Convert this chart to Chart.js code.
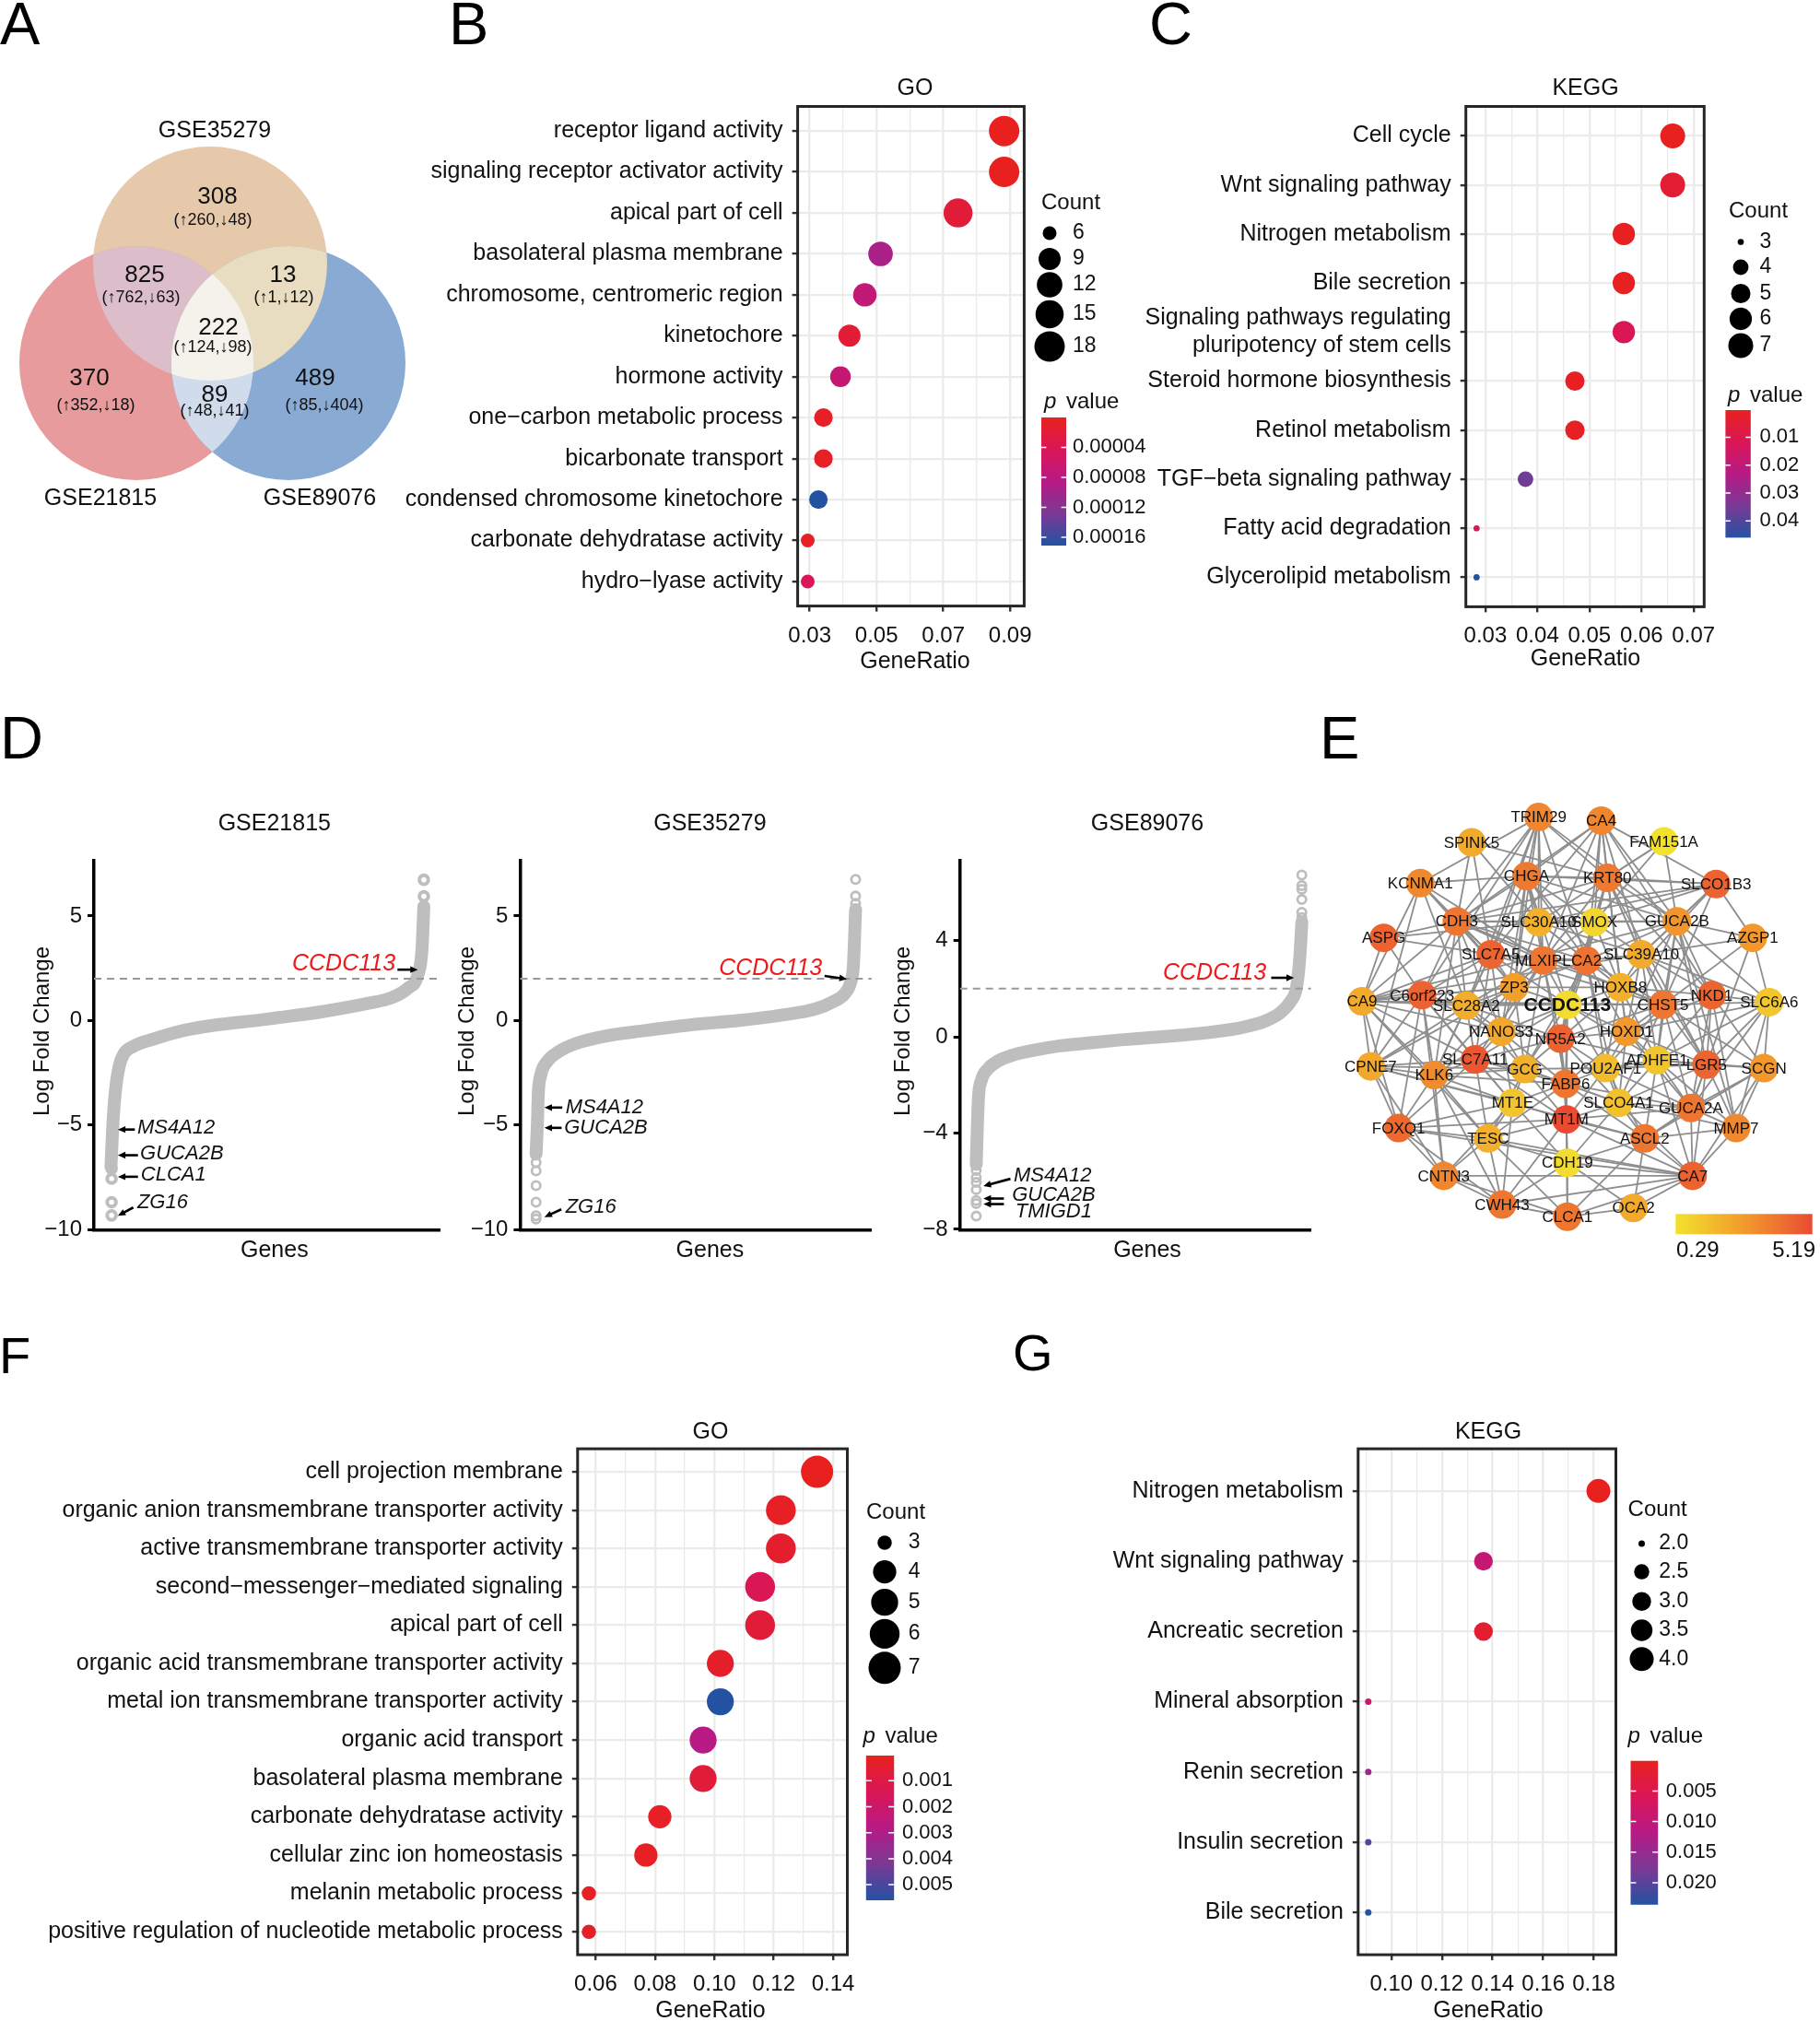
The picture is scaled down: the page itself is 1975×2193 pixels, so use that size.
<!DOCTYPE html>
<html>
<head>
<meta charset="utf-8">
<title>CCDC113 figure</title>
<script src="https://cdn.jsdelivr.net/npm/chart.js@4.4.1/dist/chart.umd.min.js"></script>
<style>
  html, body { margin: 0; padding: 0; background: #fff; }
  #fig { position: relative; width: 1975px; height: 2193px; overflow: hidden; background: #fff;
         font-family: "Liberation Sans", Arial, Helvetica, sans-serif; }
  #fig canvas { position: absolute; }
  .tag { position: absolute; line-height: 1; color: #000; font-size: 65px; }
  .tag.small { font-size: 56px; }
</style>
</head>
<body>
<div id="fig">
  <canvas id="venn"></canvas>
  <canvas id="goB"></canvas>
  <canvas id="keggC"></canvas>
  <canvas id="rank1"></canvas>
  <canvas id="rank2"></canvas>
  <canvas id="rank3"></canvas>
  <canvas id="net"></canvas>
  <canvas id="goF"></canvas>
  <canvas id="keggG"></canvas>
  <div class="tag" style="left:0px;top:-7px">A</div>
  <div class="tag" style="left:487px;top:-7px">B</div>
  <div class="tag" style="left:1247px;top:-7px">C</div>
  <div class="tag" style="left:0px;top:768px">D</div>
  <div class="tag" style="left:1432px;top:768px">E</div>
  <div class="tag small" style="left:-1px;top:1443px">F</div>
  <div class="tag small" style="left:1099px;top:1440px">G</div>
</div>
<script>
const FONT = '"Liberation Sans", Arial, Helvetica, sans-serif';
Chart.defaults.font.family = FONT;
Chart.defaults.color = '#111';

// ---------- A: Venn ----------
const vennSets = ['GSE35279', 'GSE21815', 'GSE89076'];
const vennTotals = [308, 825, 13, 222, 370, 89, 489];
const vennUp = [260, 762, 1, 124, 352, 48, 85];
const vennDown = [48, 63, 12, 98, 18, 41, 404];

// ---------- B: GO (up) ----------
const goTermsB = ['receptor ligand activity', 'signaling receptor activator activity', 'apical part of cell',
  'basolateral plasma membrane', 'chromosome, centromeric region', 'kinetochore', 'hormone activity',
  'one\u2212carbon metabolic process', 'bicarbonate transport', 'condensed chromosome kinetochore',
  'carbonate dehydratase activity', 'hydro\u2212lyase activity'];
const goRatioB = [0.0882, 0.0882, 0.0744, 0.0512, 0.0465, 0.0419, 0.0392, 0.0341, 0.0341, 0.0326, 0.0294, 0.0294];
const goCountB = [18, 18, 16, 11, 10, 9, 8, 7, 7, 7, 6, 6];
const goPB = [0.0000002, 0.0000004, 0.000021, 0.000095, 0.000072, 0.000019, 0.000068, 0.000005, 0.000006, 0.000171, 0.000004, 0.000043];
const goTicksB = [0.03, 0.05, 0.07, 0.09];
const goMinorB = [0.04, 0.06, 0.08];
const goCountKeysB = [6, 9, 12, 15, 18];
const goPKeysB = [0.00004, 0.00008, 0.00012, 0.00016];

// ---------- C: KEGG ----------
const keggTermsC = ['Cell cycle', 'Wnt signaling pathway', 'Nitrogen metabolism', 'Bile secretion',
  ['Signaling pathways regulating', 'pluripotency of stem cells'], 'Steroid hormone biosynthesis',
  'Retinol metabolism', 'TGF\u2212beta signaling pathway', 'Fatty acid degradation', 'Glycerolipid metabolism'];
const keggRatioC = [0.0660, 0.0660, 0.0566, 0.0566, 0.0566, 0.0472, 0.0472, 0.0377, 0.0283, 0.0283];
const keggCountC = [7, 7, 6, 6, 6, 5, 5, 4, 3, 3];
const keggPC = [0.0003, 0.0046, 0.0010, 0.0012, 0.0115, 0.0015, 0.0018, 0.0360, 0.0130, 0.0460];
const keggTicksC = [0.03, 0.04, 0.05, 0.06, 0.07];
const keggMinorC = [0.035, 0.045, 0.055, 0.065];
const keggCountKeysC = [3, 4, 5, 6, 7];
const keggPKeysC = [0.01, 0.02, 0.03, 0.04];

// ---------- D: ranked log fold change ----------
const rank21815X = [0.004, 0.010, 0.018, 0.030, 0.045, 0.074, 0.142, 0.239, 0.337, 0.483, 0.531, 0.677, 0.823, 0.901, 0.950, 0.980, 0.994, 1.000];
const rank21815Y = [-7.0, -5.0, -3.4, -2.2, -1.6, -1.25, -0.88, -0.47, -0.22, 0.03, 0.12, 0.42, 0.82, 1.11, 1.55, 2.14, 3.39, 5.45];
const rank21815OutX = [0.006, 0.006, 0.006, 0.006, 1, 1];
const rank21815OutY = [-7.1, -7.57, -8.7, -9.33, 5.94, 6.73];

const rank35279X = [0, 0.004, 0.007, 0.015, 0.033, 0.070, 0.125, 0.216, 0.344, 0.491, 0.637, 0.766, 0.875, 0.930, 0.967, 0.985, 0.993, 1.000];
const rank35279Y = [-6.4, -5.0, -3.5, -2.6, -2.0, -1.5, -1.1, -0.75, -0.48, -0.2, 0.0, 0.25, 0.55, 0.9, 1.3, 1.85, 2.6, 5.3];
const rank35279OutX = [0, 0, 0, 0, 0, 0, 1, 1, 1];
const rank35279OutY = [-6.8, -7.2, -7.9, -8.7, -9.35, -9.5, 5.6, 5.95, 6.75];

const rank89076X = [0, 0.004, 0.007, 0.016, 0.035, 0.068, 0.115, 0.181, 0.256, 0.350, 0.444, 0.539, 0.633, 0.727, 0.821, 0.887, 0.934, 0.967, 0.983, 0.992, 0.997, 1.000];
const rank89076Y = [-5.3, -3.5, -2.5, -1.8, -1.35, -1.0, -0.75, -0.55, -0.38, -0.25, -0.13, -0.03, 0.07, 0.2, 0.4, 0.65, 1.0, 1.5, 2.0, 3.0, 4.0, 4.75];
const rank89076OutX = [0, 0, 0, 0, 0, 0, 0, 1, 1, 1, 1, 1, 1];
const rank89076OutY = [-5.55, -5.85, -6.05, -6.35, -6.8, -6.93, -7.45, 4.95, 5.17, 5.7, 6.13, 6.28, 6.72];
const lfcCut = 2;

// ---------- E: PPI network ----------
const netGenes = ['TRIM29', 'CA4', 'SPINK5', 'FAM151A', 'KCNMA1', 'CHGA', 'KRT80', 'SLCO1B3', 'CDH3', 'SLC30A10',
  'SMOX', 'GUCA2B', 'ASPG', 'AZGP1', 'SLC7A5', 'MLXIPL', 'CA2', 'SLC39A10', 'ZP3', 'HOXB8', 'CA9', 'C6orf223',
  'SLC28A2', 'CCDC113', 'NKD1', 'SLC6A6', 'CHST5', 'NANOS3', 'HOXD1', 'NR5A2', 'CPNE7', 'KLK6', 'SLC7A11', 'GCG',
  'POU2AF1', 'ADHFE1', 'LGR5', 'SCGN', 'FABP6', 'MT1E', 'SLCO4A1', 'GUCA2A', 'MT1M', 'FOXQ1', 'MMP7', 'TESC',
  'ASCL2', 'CDH19', 'CNTN3', 'CA7', 'CWH43', 'CLCA1', 'OCA2'];
const netX = [1668, 1740, 1591, 1812, 1532, 1654, 1747, 1872, 1574, 1668, 1732, 1827, 1490, 1914, 1613, 1673, 1723,
  1786, 1640, 1762, 1465, 1534, 1585, 1701, 1867, 1933, 1811, 1625, 1769, 1693, 1475, 1548, 1595, 1652, 1745, 1804,
  1861, 1927, 1699, 1638, 1760, 1843, 1700, 1507, 1895, 1610, 1790, 1701, 1559, 1845, 1626, 1701, 1777];
const netY = [873, 877, 902, 901, 949, 941, 943, 950, 993, 994, 994, 993, 1012, 1012, 1031, 1038, 1038, 1031, 1069,
  1069, 1085, 1078, 1090, 1089, 1078, 1086, 1089, 1120, 1120, 1128, 1160, 1170, 1152, 1163, 1162, 1153, 1158, 1162,
  1180, 1202, 1202, 1208, 1221, 1231, 1231, 1243, 1243, 1271, 1286, 1286, 1319, 1333, 1323];
const netScore = [3.4, 3.4, 2.2, 0.29, 3.3, 3.8, 3.8, 4.5, 3.9, 2.0, 0.7, 2.9, 4.5, 2.8, 4.4, 3.9, 4.0, 2.2, 2.6, 2.0,
  2.2, 4.5, 2.1, 0.5, 4.4, 1.2, 3.9, 2.3, 2.8, 4.5, 2.3, 3.2, 4.8, 2.0, 1.6, 1.3, 4.4, 2.8, 3.9, 1.3, 1.4, 3.9, 5.19,
  4.3, 3.3, 2.0, 3.9, 0.5, 3.4, 4.5, 3.9, 3.9, 2.2];
const netLinks = [
  ['TRIM29', 'CDH3 SLC7A5 C6orf223 KRT80 CHGA SLC30A10 MLXIPL SLC28A2 ZP3 KCNMA1 CA2 GUCA2B'],
  ['CA4', 'CHGA CDH3 KRT80 SMOX GUCA2B SLCO1B3 SLC39A10 CA2 SLC7A5 HOXB8 NKD1 MLXIPL'],
  ['SPINK5', 'CDH3 SLC30A10 KRT80 SLC7A5'],
  ['FAM151A', 'KRT80 GUCA2B SMOX SLC30A10'],
  ['KCNMA1', 'CDH3 SLC7A5 CPNE7 ZP3 MLXIPL SLC28A2 CA9 CHGA'],
  ['CHGA', 'CDH3 MLXIPL SLC30A10 SLCO1B3 GUCA2B SMOX CA2 ZP3 HOXB8 CCDC113 NANOS3 SLC7A5 KRT80'],
  ['KRT80', 'CDH3 SMOX GUCA2B CA2 SLC39A10 CHST5 HOXD1 CCDC113 SLCO1B3 NKD1 LGR5 MLXIPL'],
  ['SLCO1B3', 'GUCA2B CDH3 SLC39A10 SMOX CHST5 HOXB8 SLC30A10 AZGP1'],
  ['CDH3', 'ASPG SLC7A5 SLC30A10 SMOX CA9 C6orf223 GUCA2B MLXIPL NANOS3 ZP3 KLK6 SLC28A2 CA2 HOXB8 CHST5'],
  ['SLC30A10', 'SMOX MLXIPL CA2 ZP3 SLC39A10 GUCA2B HOXB8'],
  ['SMOX', 'GUCA2B CA2 SLC39A10 HOXB8 CCDC113 MLXIPL NR5A2'],
  ['GUCA2B', 'AZGP1 SLC39A10 CHST5 NKD1 SLC6A6 HOXD1 LGR5 MMP7 CA2 ADHFE1 CA9'],
  ['ASPG', 'C6orf223 SLC7A5 CA9 SLC30A10'],
  ['AZGP1', 'SLC39A10 CHST5 SLC6A6 GUCA2A'],
  ['SLC7A5', 'MLXIPL ZP3 CA9 C6orf223 SLC28A2 NANOS3 CA2 SLC7A11 KLK6 CHST5 CCDC113'],
  ['MLXIPL', 'CA2 ZP3 CCDC113 NR5A2 NANOS3 HOXB8 SLC7A11 GCG FABP6 SLC28A2'],
  ['CA2', 'SLC39A10 HOXB8 CCDC113 NR5A2 CHST5 HOXD1 POU2AF1 ZP3 GCG SLCO4A1'],
  ['SLC39A10', 'HOXB8 CHST5 NKD1 SLC6A6 HOXD1 ADHFE1 LGR5 CA9'],
  ['ZP3', 'CCDC113 SLC28A2 NANOS3 C6orf223 CA9 HOXB8 GCG KLK6 CPNE7'],
  ['HOXB8', 'CCDC113 CHST5 HOXD1 NKD1 NR5A2 POU2AF1 ADHFE1'],
  ['CA9', 'C6orf223 SLC28A2 KLK6 CPNE7 FOXQ1 CCDC113 CHST5 NANOS3 SLC7A11 TESC'],
  ['C6orf223', 'SLC28A2 KLK6 SLC7A11 FOXQ1 CPNE7 NANOS3 CNTN3 MT1E'],
  ['SLC28A2', 'CCDC113 NANOS3 SLC7A11 KLK6 GCG NR5A2 CPNE7'],
  ['CCDC113', 'NR5A2 NANOS3 HOXD1 CHST5 GCG POU2AF1 FABP6 MT1M SLC7A11 ADHFE1'],
  ['NKD1', 'CHST5 SLC6A6 LGR5 SCGN HOXD1 ADHFE1 MMP7 GUCA2A'],
  ['SLC6A6', 'CHST5 SCGN LGR5 MMP7 ADHFE1 GUCA2A HOXD1'],
  ['CHST5', 'HOXD1 ADHFE1 LGR5 SCGN POU2AF1 GUCA2A SLCO4A1 NR5A2'],
  ['NANOS3', 'NR5A2 SLC7A11 GCG KLK6 MT1E FABP6'],
  ['HOXD1', 'NR5A2 ADHFE1 POU2AF1 LGR5 SLCO4A1 GUCA2A FABP6'],
  ['NR5A2', 'GCG POU2AF1 FABP6 SLC7A11 MT1M SLCO4A1 ADHFE1'],
  ['CPNE7', 'KLK6 FOXQ1 SLC7A11 GCG MT1E CNTN3 ASCL2'],
  ['KLK6', 'SLC7A11 FOXQ1 CNTN3 TESC MT1E GCG CWH43 FABP6'],
  ['SLC7A11', 'GCG MT1E FOXQ1 TESC FABP6 MT1M'],
  ['GCG', 'POU2AF1 FABP6 MT1E MT1M SLCO4A1 TESC'],
  ['POU2AF1', 'ADHFE1 FABP6 SLCO4A1 GUCA2A LGR5 ASCL2 MT1M'],
  ['ADHFE1', 'LGR5 SCGN GUCA2A SLCO4A1 MMP7 ASCL2 CA7'],
  ['LGR5', 'SCGN GUCA2A MMP7 CA7 SLCO4A1'],
  ['SCGN', 'GUCA2A MMP7 CA7 ASCL2'],
  ['FABP6', 'MT1E MT1M SLCO4A1 ASCL2 CDH19 TESC GUCA2A'],
  ['MT1E', 'MT1M TESC CNTN3 CWH43 CDH19 FOXQ1'],
  ['SLCO4A1', 'GUCA2A MT1M ASCL2 CA7 CDH19 MMP7'],
  ['GUCA2A', 'MMP7 CA7 ASCL2 MT1M'],
  ['MT1M', 'ASCL2 CDH19 TESC CA7 CLCA1 CWH43 FOXQ1'],
  ['FOXQ1', 'TESC CNTN3 CWH43 CA7'],
  ['MMP7', 'CA7 ASCL2'],
  ['TESC', 'CNTN3 CWH43 CDH19 CA7 CLCA1'],
  ['ASCL2', 'CA7 CDH19 OCA2 CLCA1'],
  ['CDH19', 'CA7 CLCA1 CWH43 OCA2'],
  ['CNTN3', 'CA7 CWH43 CLCA1'],
  ['CA7', 'CLCA1 OCA2 CWH43'],
  ['CWH43', 'CLCA1'],
  ['CLCA1', 'OCA2']
];
const netScaleLabels = ['0.29', '5.19'];

// ---------- F: GO (down) ----------
const goTermsF = ['cell projection membrane', 'organic anion transmembrane transporter activity',
  'active transmembrane transporter activity', 'second\u2212messenger\u2212mediated signaling', 'apical part of cell',
  'organic acid transmembrane transporter activity', 'metal ion transmembrane transporter activity',
  'organic acid transport', 'basolateral plasma membrane', 'carbonate dehydratase activity',
  'cellular zinc ion homeostasis', 'melanin metabolic process', 'positive regulation of nucleotide metabolic process'];
const goRatioF = [0.1346, 0.1224, 0.1224, 0.1154, 0.1154, 0.1020, 0.1020, 0.0962, 0.0962, 0.0816, 0.0769, 0.0577, 0.0577];
const goCountF = [7, 6, 6, 6, 6, 5, 5, 5, 5, 4, 4, 3, 3];
const goPF = [0.00003, 0.0002, 0.0004, 0.0014, 0.0007, 0.0003, 0.0056, 0.0028, 0.0007, 0.0002, 0.0002, 0.0002, 0.0003];
const goTicksF = [0.06, 0.08, 0.10, 0.12, 0.14];
const goMinorF = [0.07, 0.09, 0.11, 0.13];
const goCountKeysF = [3, 4, 5, 6, 7];
const goPKeysF = [0.001, 0.002, 0.003, 0.004, 0.005];

// ---------- G: KEGG (down) ----------
const keggTermsG = ['Nitrogen metabolism', 'Wnt signaling pathway', 'Ancreatic secretion', 'Mineral absorption',
  'Renin secretion', 'Insulin secretion', 'Bile secretion'];
const keggRatioG = [0.1818, 0.1364, 0.1364, 0.0909, 0.0909, 0.0909, 0.0909];
const keggCountG = [4, 3, 3, 2, 2, 2, 2];
const keggPG = [0.00006, 0.0095, 0.0019, 0.0088, 0.0142, 0.0200, 0.0236];
const keggTicksG = [0.10, 0.12, 0.14, 0.16, 0.18];
const keggMinorG = [0.09, 0.11, 0.13, 0.15, 0.17];
const keggCountKeysG = [2.0, 2.5, 3.0, 3.5, 4.0];
const keggPKeysG = [0.005, 0.010, 0.015, 0.020];

// ---------- helpers ----------
const P_STOPS = ['#E8211E', '#DA1656', '#B71A86', '#7A3994', '#2452A3'];
const DEG_STOPS = ['#F3E130', '#F2BE2C', '#F29A2D', '#EE7430', '#E94A30'];

function hexRgb(h) {
  const n = parseInt(h.slice(1), 16);
  return [(n >> 16) & 255, (n >> 8) & 255, n & 255];
}
function ramp(stops, t) {
  t = Math.max(0, Math.min(1, t));
  const s = (stops.length - 1) * t;
  const i = Math.min(Math.floor(s), stops.length - 2);
  const f = s - i;
  const a = hexRgb(stops[i]), b = hexRgb(stops[i + 1]);
  const c = a.map((v, k) => Math.round(v + (b[k] - v) * f));
  return `rgb(${c[0]},${c[1]},${c[2]})`;
}
function place(id, x, y, w, h) {
  const c = document.getElementById(id);
  c.width = w; c.height = h;
  c.style.left = x + 'px'; c.style.top = y + 'px';
  c.style.width = w + 'px'; c.style.height = h + 'px';
  return c;
}
function txt(ctx, s, x, y, size, align, o) {
  o = o || {};
  ctx.font = `${o.style || 'normal'} ${o.weight || 'normal'} ${size}px ${FONT}`;
  ctx.fillStyle = o.color || '#111';
  ctx.textAlign = align || 'left';
  ctx.textBaseline = 'middle';
  ctx.fillText(s, x, y);
}
function arrow(ctx, x1, y1, x2, y2) {
  const a = Math.atan2(y2 - y1, x2 - x1), L = 9, w = 0.42;
  ctx.strokeStyle = '#000'; ctx.fillStyle = '#000'; ctx.lineWidth = 2.6;
  ctx.beginPath(); ctx.moveTo(x1, y1); ctx.lineTo(x2 - 5 * Math.cos(a), y2 - 5 * Math.sin(a)); ctx.stroke();
  ctx.beginPath();
  ctx.moveTo(x2, y2);
  ctx.lineTo(x2 - L * Math.cos(a - w), y2 - L * Math.sin(a - w));
  ctx.lineTo(x2 - L * Math.cos(a + w), y2 - L * Math.sin(a + w));
  ctx.closePath(); ctx.fill();
}
const baseOpts = {
  responsive: false, animation: false, devicePixelRatio: 1, events: [],
  plugins: { legend: { display: false }, tooltip: { enabled: false } }
};

// ---------- A ----------
(function () {
  const cv = [0, 100, 470, 480];
  const centers = [[228, 286], [148, 394], [313, 394]];
  const R = 127;
  const fills = ['#E6C9AB', '#E89B9C', '#89AAD2'];
  const pairFills = [[[0, 1], '#DCBECB'], [[0, 2], '#E8DCC1'], [[1, 2], '#D0DCEB'], [[0, 1, 2], '#F4F2EA']];
  const setPos = [[233, 142], [109, 541], [347, 541]];
  const regionPos = [[236, 214, 231, 239], [157, 299, 153, 323], [307, 299, 308, 323], [237, 356, 231, 377],
    [97, 411, 104, 440], [233, 429, 233, 446], [342, 411, 352, 440]];
  const vennPlugin = {
    id: 'venn',
    afterDatasetsDraw(chart) {
      const { ctx, scales: { x, y } } = chart;
      const r = x.getPixelForValue(R) - x.getPixelForValue(0);
      const circ = i => { ctx.beginPath(); ctx.arc(x.getPixelForValue(centers[i][0]), y.getPixelForValue(centers[i][1]), r, 0, Math.PI * 2); };
      pairFills.forEach(([ids, col]) => {
        ctx.save();
        ids.slice(0, -1).forEach(i => { circ(i); ctx.clip(); });
        circ(ids[ids.length - 1]);
        ctx.fillStyle = col; ctx.fill();
        ctx.restore();
      });
      vennSets.forEach((s, i) => txt(ctx, s, x.getPixelForValue(setPos[i][0]), y.getPixelForValue(setPos[i][1]), 25, 'center'));
      vennTotals.forEach((v, i) => {
        const p = regionPos[i];
        txt(ctx, String(v), x.getPixelForValue(p[0]), y.getPixelForValue(p[1]), 26, 'center');
        txt(ctx, `(\u2191${vennUp[i]},\u2193${vennDown[i]})`, x.getPixelForValue(p[2]), y.getPixelForValue(p[3]), 18, 'center');
      });
    }
  };
  new Chart(place('venn', ...cv), {
    type: 'scatter',
    data: { datasets: [{
      data: centers.map(c => ({ x: c[0], y: c[1] })),
      pointRadius: c => { const s = c.chart.scales.x; return s.getPixelForValue(R) - s.getPixelForValue(0); },
      pointBackgroundColor: fills, pointBorderWidth: 0, clip: false
    }] },
    options: Object.assign({}, baseOpts, {
      layout: { padding: 0 },
      scales: {
        x: { type: 'linear', display: false, min: cv[0], max: cv[0] + cv[2] },
        y: { type: 'linear', display: false, min: cv[1], max: cv[1] + cv[3], reverse: true }
      }
    }),
    plugins: [vennPlugin]
  });
})();

// ---------- dot plots (B, C, F, G) ----------
function dotPlot(o) {
  const [cx, cy, cw, ch] = o.canvas;
  const [bl, bt, br, bb] = o.box;
  const n = o.terms.length;
  const cMin = Math.min(...o.count), cMax = Math.max(...o.count);
  const pMin = Math.min(...o.p), pMax = Math.max(...o.p);
  const diam = c => o.size[0] + (o.size[1] - o.size[0]) * Math.sqrt(Math.max(0, (c - cMin) / (cMax - cMin)));
  const col = p => ramp(P_STOPS, (p - pMin) / (pMax - pMin));
  const isMajor = v => o.ticks.some(m => Math.abs(m - v) < 1e-9);
  const L = o.legend;

  const decor = {
    id: 'decor',
    afterDraw(chart) {
      const { ctx, chartArea: a } = chart;
      ctx.save();
      ctx.strokeStyle = '#262626'; ctx.lineWidth = 3;
      ctx.strokeRect(a.left, a.top, a.right - a.left, a.bottom - a.top);
      ctx.translate(-cx, -cy);
      txt(ctx, o.title, o.titlePos[0], o.titlePos[1], 25, 'center');
      txt(ctx, 'GeneRatio', o.xTitlePos[0], o.xTitlePos[1], 25, 'center');
      // size legend
      txt(ctx, 'Count', L.countTitle[0], L.countTitle[1], 24, 'left');
      o.countKeys.forEach((k, i) => {
        ctx.beginPath(); ctx.fillStyle = '#000';
        ctx.arc(L.countX, L.countY[i], diam(k) / 2, 0, Math.PI * 2); ctx.fill();
        txt(ctx, o.countFmt(k), L.countLabelX, L.countY[i], 23, 'left');
      });
      // p value colour bar
      ctx.font = `italic 24px ${FONT}`;
      txt(ctx, 'p', L.pTitle[0], L.pTitle[1], 24, 'left', { style: 'italic' });
      const pw = ctx.measureText('p').width;
      txt(ctx, ' value', L.pTitle[0] + pw + 4, L.pTitle[1], 24, 'left');
      const [x0, y0, x1, y1] = L.bar;
      const g = ctx.createLinearGradient(0, y0, 0, y1);
      P_STOPS.forEach((s, i) => g.addColorStop(i / (P_STOPS.length - 1), s));
      ctx.fillStyle = g; ctx.fillRect(x0, y0, x1 - x0, y1 - y0);
      o.pKeys.forEach(k => {
        const yy = y0 + (k - pMin) / (pMax - pMin) * (y1 - y0);
        ctx.strokeStyle = '#fff'; ctx.lineWidth = 1.5;
        const tl = (x1 - x0) / 5;
        ctx.beginPath(); ctx.moveTo(x0, yy); ctx.lineTo(x0 + tl, yy); ctx.moveTo(x1 - tl, yy); ctx.lineTo(x1, yy); ctx.stroke();
        txt(ctx, o.pFmt(k), L.pLabelX, yy, 22, 'left');
      });
      ctx.restore();
    }
  };

  new Chart(place(o.id, cx, cy, cw, ch), {
    type: 'scatter',
    data: { datasets: [{
      data: o.terms.map((t, i) => ({ x: o.ratio[i], y: i })),
      pointRadius: c => diam(o.count[c.dataIndex]) / 2,
      pointBackgroundColor: c => col(o.p[c.dataIndex]),
      pointBorderWidth: 0, clip: false
    }] },
    options: Object.assign({}, baseOpts, {
      layout: { padding: { left: 0, top: bt - cy, right: cx + cw - br, bottom: 0 } },
      scales: {
        x: {
          type: 'linear', min: o.xMin, max: o.xMax, bounds: 'data',
          afterBuildTicks: s => { s.ticks = o.ticks.concat(o.minor).sort((a, b) => a - b).map(v => ({ value: v })); },
          afterFit: s => { s.height = cy + ch - bb; },
          ticks: { autoSkip: false, maxRotation: 0, minRotation: 0, padding: 12, font: { size: 24 }, color: '#111',
                   callback: v => isMajor(v) ? v.toFixed(2) : '' },
          grid: { color: '#EBEBEB', lineWidth: c => (c.tick && isMajor(c.tick.value)) ? 2.4 : 1.3,
                  tickLength: 6, tickWidth: 2.4,
                  tickColor: c => (c.tick && isMajor(c.tick.value)) ? '#333' : 'rgba(0,0,0,0)' },
          border: { display: false }
        },
        y: {
          type: 'linear', min: -0.6, max: n - 0.4, reverse: true, bounds: 'data',
          afterBuildTicks: s => { s.ticks = o.terms.map((t, i) => ({ value: i })); },
          afterFit: s => { s.width = bl - cx; },
          ticks: { autoSkip: false, padding: 10, font: { size: 25 }, color: '#111',
                   callback: v => o.terms[v] },
          grid: { color: '#EBEBEB', lineWidth: 2.2, tickLength: 6, tickWidth: 2.4, tickColor: '#333' },
          border: { display: false }
        }
      }
    }),
    plugins: [decor]
  });
}

dotPlot({
  id: 'goB', canvas: [420, 60, 825, 680], box: [865.6, 115.5, 1111.4, 657.6],
  terms: goTermsB, ratio: goRatioB, count: goCountB, p: goPB,
  xMin: 0.02639, xMax: 0.0942, ticks: goTicksB, minor: goMinorB, size: [15, 33],
  title: 'GO', titlePos: [993, 96], xTitlePos: [993, 718],
  countKeys: goCountKeysB, countFmt: k => String(k), pKeys: goPKeysB, pFmt: k => k.toFixed(5),
  legend: { countTitle: [1130, 220], countY: [253, 281, 309, 341, 376], countX: 1139, countLabelX: 1164,
            pTitle: [1133, 436], bar: [1130, 453, 1157, 592], pLabelX: 1164 }
});
dotPlot({
  id: 'keggC', canvas: [1220, 60, 755, 680], box: [1590.7, 115.5, 1849.3, 658.4],
  terms: keggTermsC, ratio: keggRatioC, count: keggCountC, p: keggPC,
  xMin: 0.02624, xMax: 0.07205, ticks: keggTicksC, minor: keggMinorC, size: [6.7, 27],
  title: 'KEGG', titlePos: [1720.5, 96], xTitlePos: [1720.5, 715],
  countKeys: keggCountKeysC, countFmt: k => String(k), pKeys: keggPKeysC, pFmt: k => k.toFixed(2),
  legend: { countTitle: [1876, 229], countY: [262.5, 290, 318.5, 346, 375], countX: 1889, countLabelX: 1909.5,
            pTitle: [1875, 429.5], bar: [1872.4, 445, 1899.8, 583.4], pLabelX: 1909.5 }
});
dotPlot({
  id: 'goF', canvas: [0, 1440, 1060, 753], box: [626.8, 1572.1, 919.5, 2121.1],
  terms: goTermsF, ratio: goRatioF, count: goCountF, p: goPF,
  xMin: 0.0539, xMax: 0.1448, ticks: goTicksF, minor: goMinorF, size: [15.5, 35],
  title: 'GO', titlePos: [771, 1554], xTitlePos: [771, 2182],
  countKeys: goCountKeysF, countFmt: k => String(k), pKeys: goPKeysF, pFmt: k => k.toFixed(3),
  legend: { countTitle: [940, 1641], countY: [1674, 1705.6, 1738.7, 1772.9, 1809.8], countX: 960, countLabelX: 985.8,
            pTitle: [936.4, 1884.3], bar: [939.8, 1905, 970.2, 2062], pLabelX: 979 }
});
dotPlot({
  id: 'keggG', canvas: [1080, 1440, 895, 753], box: [1473.8, 1572.1, 1753.5, 2121.1],
  terms: keggTermsG, ratio: keggRatioG, count: keggCountG, p: keggPG,
  xMin: 0.0869, xMax: 0.1887, ticks: keggTicksG, minor: keggMinorG, size: [7, 26],
  title: 'KEGG', titlePos: [1615, 1554], xTitlePos: [1615, 2182],
  countKeys: keggCountKeysG, countFmt: k => k.toFixed(1), pKeys: keggPKeysG, pFmt: k => k.toFixed(3),
  legend: { countTitle: [1766.6, 1638.4], countY: [1674.9, 1705.6, 1737.8, 1769, 1800.2], countX: 1781.5, countLabelX: 1800.3,
            pTitle: [1766.6, 1884.3], bar: [1769.5, 1910.7, 1799.2, 2066.8], pLabelX: 1807.8 }
});

// ---------- D ----------
function rankPlot(o) {
  const [cx, cy, cw, ch] = o.canvas;
  const [al, at, ar, ab] = o.area;
  const decor = {
    id: 'rankDecor',
    afterDatasetsDraw(chart) {
      const { ctx, chartArea: a, scales: { x, y } } = chart;
      ctx.save();
      const yy = y.getPixelForValue(lfcCut);
      ctx.setLineDash([8, 6]); ctx.strokeStyle = '#999'; ctx.lineWidth = 2;
      ctx.beginPath(); ctx.moveTo(a.left, yy); ctx.lineTo(a.right, yy); ctx.stroke();
      ctx.setLineDash([]);
      o.notes.forEach(nt => {
        txt(ctx, nt.text, x.getPixelForValue(nt.x), y.getPixelForValue(nt.y), nt.size || 22, nt.align || 'left',
            { style: 'italic', color: nt.color || '#111' });
        const q = nt.arrow;
        arrow(ctx, x.getPixelForValue(q[0]), y.getPixelForValue(q[1]), x.getPixelForValue(q[2]), y.getPixelForValue(q[3]));
      });
      ctx.translate(-cx, -cy);
      txt(ctx, o.title, o.titleX, 894.5, 25, 'center');
      txt(ctx, 'Genes', o.titleX, 1357.5, 25, 'center');
      ctx.translate(o.yTitleX, 1119); ctx.rotate(-Math.PI / 2);
      txt(ctx, 'Log Fold Change', 0, 0, 24, 'center');
      ctx.restore();
    }
  };
  new Chart(place(o.id, cx, cy, cw, ch), {
    type: 'scatter',
    data: { datasets: [
      { data: o.outX.map((v, i) => ({ x: v, y: o.outY[i] })), pointRadius: o.ringR,
        pointBackgroundColor: 'rgba(0,0,0,0)', pointBorderColor: '#BEBEBE',
        pointBorderWidth: o.ringW, clip: false },
      { data: o.x.map((v, i) => ({ x: v, y: o.y[i] })), showLine: true, pointRadius: 0,
        borderColor: '#BEBEBE', borderWidth: 14, borderCapStyle: 'round', borderJoinStyle: 'round',
        cubicInterpolationMode: 'monotone', clip: false }
    ] },
    options: Object.assign({}, baseOpts, {
      layout: { padding: { left: 0, top: at - cy, right: cx + cw - ar, bottom: 0 } },
      scales: {
        x: { type: 'linear', min: o.xRange[0], max: o.xRange[1],
             afterFit: s => { s.height = cy + ch - ab; },
             ticks: { display: false }, grid: { display: false },
             border: { display: true, color: '#000', width: 3.5 } },
        y: { type: 'linear', min: o.yRange[0], max: o.yRange[1], bounds: 'data',
             afterBuildTicks: s => { s.ticks = o.yTicks.map(v => ({ value: v })); },
             afterFit: s => { s.width = al - cx; },
             ticks: { padding: 6, font: { size: 24 }, color: '#111', autoSkip: false,
                      callback: v => String(v).replace('-', '\u2212') },
             grid: { display: true, drawOnChartArea: false, drawTicks: true, tickLength: 7, tickWidth: 3, tickColor: '#000' },
             border: { display: true, color: '#000', width: 3.5 } }
      }
    }),
    plugins: [decor]
  });
}

rankPlot({
  id: 'rank1', canvas: [0, 870, 492, 510], area: [102, 933.8, 477, 1334.5], title: 'GSE21815', titleX: 297.8, yTitleX: 46,
  x: rank21815X, y: rank21815Y, outX: rank21815OutX, outY: rank21815OutY, ringR: 4.8, ringW: 4,
  xRange: [-0.05, 1.05], yRange: [-10.02, 7.65], yTicks: [5, 0, -5, -10],
  notes: [
    { text: 'CCDC113', color: '#F01818', size: 25, align: 'center', x: 0.745, y: 2.68, arrow: [0.916, 2.43, 0.981, 2.43] },
    { text: 'MS4A12', x: 0.0875, y: -5.12, arrow: [0.08, -5.22, 0.026, -5.22] },
    { text: 'GUCA2B', x: 0.097, y: -6.38, arrow: [0.09, -6.45, 0.026, -6.45] },
    { text: 'CLCA1', x: 0.099, y: -7.4, arrow: [0.09, -7.48, 0.026, -7.48] },
    { text: 'ZG16', x: 0.0875, y: -8.7, arrow: [0.075, -8.95, 0.026, -9.35] }
  ]
});
rankPlot({
  id: 'rank2', canvas: [470, 870, 490, 510], area: [564.4, 933.8, 945.8, 1334.5], title: 'GSE35279', titleX: 770.4, yTitleX: 507,
  x: rank35279X, y: rank35279Y, outX: rank35279OutX, outY: rank35279OutY, ringR: 4.6, ringW: 2.8,
  xRange: [-0.05, 1.05], yRange: [-10.02, 7.65], yTicks: [5, 0, -5, -10],
  notes: [
    { text: 'CCDC113', color: '#F01818', size: 25, align: 'center', x: 0.734, y: 2.47, arrow: [0.903, 2.13, 0.973, 1.98] },
    { text: 'MS4A12', x: 0.092, y: -4.17, arrow: [0.082, -4.17, 0.026, -4.17] },
    { text: 'GUCA2B', x: 0.088, y: -5.14, arrow: [0.08, -5.14, 0.026, -5.14] },
    { text: 'ZG16', x: 0.092, y: -8.92, arrow: [0.079, -9.04, 0.026, -9.41] }
  ]
});
rankPlot({
  id: 'rank3', canvas: [940, 870, 490, 510], area: [1041.7, 933.8, 1423.3, 1334.5], title: 'GSE89076', titleX: 1245, yTitleX: 980,
  x: rank89076X, y: rank89076Y, outX: rank89076OutX, outY: rank89076OutY, ringR: 4.6, ringW: 2.8,
  xRange: [-0.05, 1.028], yRange: [-8.02, 7.32], yTicks: [4, 0, -4, -8],
  notes: [
    { text: 'CCDC113', color: '#F01818', size: 25, align: 'center', x: 0.732, y: 2.63, arrow: [0.906, 2.45, 0.976, 2.45] },
    { text: 'MS4A12', x: 0.115, y: -5.77, arrow: [0.105, -5.9, 0.022, -6.2] },
    { text: 'GUCA2B', x: 0.11, y: -6.57, arrow: [0.085, -6.72, 0.022, -6.72] },
    { text: 'TMIGD1', x: 0.12, y: -7.27, arrow: [0.085, -6.95, 0.022, -6.95] }
  ]
});

// ---------- E ----------
(function () {
  const cv = [1420, 840, 555, 540];
  const sMin = Math.min(...netScore), sMax = Math.max(...netScore);
  const idx = {};
  netGenes.forEach((g, i) => { idx[g] = i; });
  const pts = netGenes.map((g, i) => ({ x: netX[i], y: netY[i] }));
  const edgeSets = [];
  netLinks.forEach(([a, list]) => {
    list.split(' ').forEach(b => {
      edgeSets.push({ data: [pts[idx[a]], pts[idx[b]]], showLine: true, pointRadius: 0,
                      borderColor: '#8E8E8E', borderWidth: 1.8, clip: false });
    });
  });
  const netDecor = {
    id: 'netDecor',
    afterDatasetsDraw(chart) {
      const { ctx, scales: { x, y } } = chart;
      ctx.save();
      netGenes.forEach((g, i) => {
        const bold = g === 'CCDC113';
        txt(ctx, g, x.getPixelForValue(netX[i]), y.getPixelForValue(netY[i]) + 1, bold ? 21 : 17, 'center',
            { weight: bold ? 'bold' : 'normal', color: '#111' });
      });
      ctx.translate(-cv[0], -cv[1]);
      const g = ctx.createLinearGradient(1818.3, 0, 1966.7, 0);
      DEG_STOPS.forEach((s, i) => g.addColorStop(i / (DEG_STOPS.length - 1), s));
      ctx.fillStyle = g; ctx.fillRect(1818.3, 1317.3, 148.4, 22);
      txt(ctx, netScaleLabels[0], 1819, 1357, 24, 'left');
      txt(ctx, netScaleLabels[1], 1970, 1357, 24, 'right');
      ctx.restore();
    }
  };
  new Chart(place('net', ...cv), {
    type: 'scatter',
    data: { datasets: [{
      data: pts, pointRadius: 15.5, pointBorderWidth: 0, clip: false,
      pointBackgroundColor: c => ramp(DEG_STOPS, (netScore[c.dataIndex] - sMin) / (sMax - sMin))
    }].concat(edgeSets) },
    options: Object.assign({}, baseOpts, {
      layout: { padding: 0 },
      scales: {
        x: { type: 'linear', display: false, min: cv[0], max: cv[0] + cv[2] },
        y: { type: 'linear', display: false, min: cv[1], max: cv[1] + cv[3], reverse: true }
      }
    }),
    plugins: [netDecor]
  });
})();
</script>
</body>
</html>
